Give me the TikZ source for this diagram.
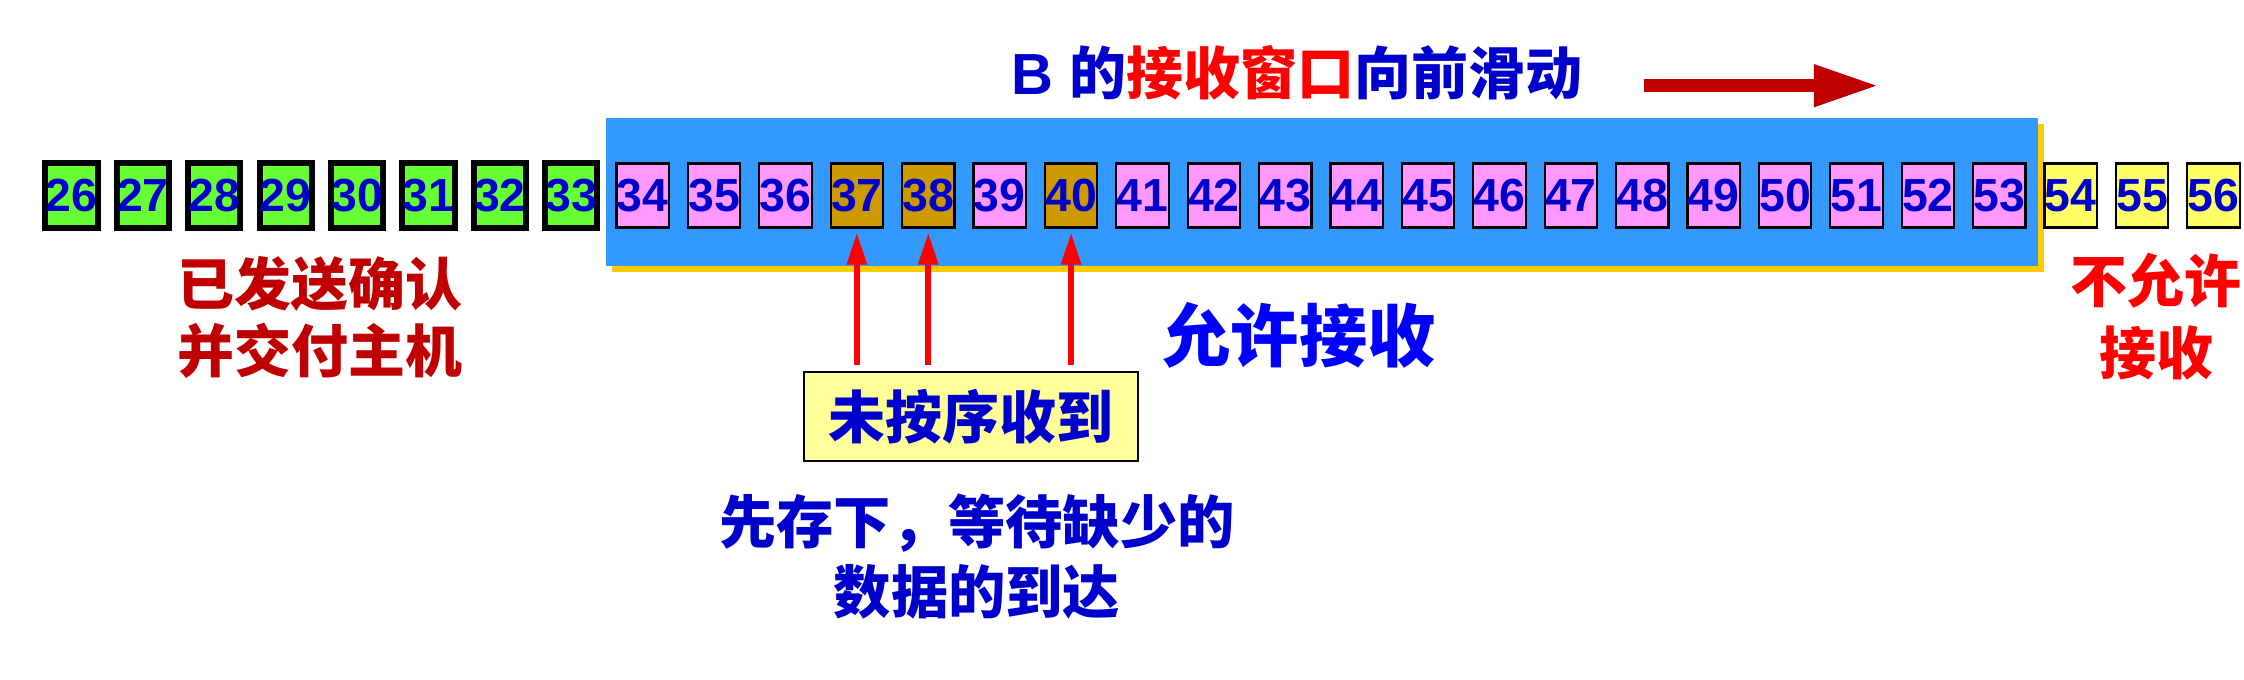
\documentclass[tikz,border=0pt]{standalone}
\usepackage{fontspec}
\setmainfont{Liberation Sans}
\newfontfamily\cjk{Noto Sans CJK SC}
\usetikzlibrary{arrows.meta}
\definecolor{numblue}{HTML}{0000CC}
\definecolor{purblue}{HTML}{0000FF}
\definecolor{winblue}{HTML}{3399FF}
\definecolor{winshadow}{HTML}{FFCC00}
\definecolor{donegreen}{HTML}{66FF33}
\definecolor{seqpink}{HTML}{FF99FF}
\definecolor{gotgold}{HTML}{CC9900}
\definecolor{lateyellow}{HTML}{FFFF66}
\definecolor{notefill}{HTML}{FFFF99}
\definecolor{darkred}{HTML}{C00000}
\tikzset{
    seqbox/.style={draw=black, line width=0.6pt, inner sep=0pt,
        minimum width=0.524cm, minimum height=0.64cm,
        text=numblue, font=\fontsize{13.2pt}{15pt}\selectfont\bfseries},
    donebox/.style={seqbox, fill=donegreen, line width=1.7pt,
        minimum width=0.52cm, minimum height=0.65cm},
    winbox/.style={seqbox, fill=seqpink},
    latebox/.style={seqbox, fill=lateyellow},
    cjktext/.style={inner sep=0pt, align=center,
        font=\cjk\bfseries\fontsize{16.2pt}{19pt}\selectfont},
    notebox/.style={cjktext, draw=black, line width=0.7pt, fill=notefill,
        text=numblue, minimum width=3.34cm, minimum height=0.89cm},
    hitarrow/.style={red, line width=1.7pt,
        -{Triangle[length=0.32cm,width=0.19cm]}},
    slidearrow/.style={darkred, line width=3.7pt,
        -{Triangle[length=0.65cm,width=0.39cm]}}
}
\begin{document}
\begin{tikzpicture}[x=0.01cm,y=-0.01cm]
    \useasboundingbox (0,0) rectangle (2244,680);
    \fill[winshadow] (612,124) rectangle (2044,272);
    \fill[winblue] (606,118) rectangle (2038,266);
    \foreach \n in {26,...,33}
        \node[donebox] (n\n) at ({71.5+(\n-26)*71.4},195.5) {\n};
    \foreach \n in {34,...,53}{
        \def\boxfill{seqpink}
        \ifnum\n=37 \def\boxfill{gotgold}\fi
        \ifnum\n=38 \def\boxfill{gotgold}\fi
        \ifnum\n=40 \def\boxfill{gotgold}\fi
        \node[winbox, fill=\boxfill] (n\n) at ({71.5+(\n-26)*71.4},195.5) {\n};
    }
    \foreach \n in {54,55,56}
        \node[latebox] (n\n) at ({71.5+(\n-26)*71.4},195.5) {\n};
    \node[anchor=west, inner sep=0pt] (title) at (1011,73)
        {\textcolor{numblue}{\fontsize{16.5pt}{19pt}\selectfont\bfseries B }%
         {\cjk\bfseries\fontsize{16.2pt}{19pt}\selectfont
          \textcolor{numblue}{的}\textcolor{red}{接收窗口}\textcolor{numblue}{向前滑动}}};
    \coordinate (slidefrom) at (1644,85.7);
    \coordinate (slideto) at (1879,85.7);
    \draw[slidearrow] (slidefrom) -- (slideto);
    \node[cjktext, text=darkred] (acked) at (320,317) {已发送确认\\并交付主机};
    \node[cjktext, text=red, font=\cjk\bfseries\fontsize{16.2pt}{20.4pt}\selectfont]
        (refused) at (2156,317) {不允许\\接收};
    \node[cjktext, text=purblue, font=\cjk\bfseries\fontsize{19.4pt}{22pt}\selectfont]
        (allowed) at (1299,335) {允许接收};
    \node[notebox] (oos) at (971,416.5) {未按序收到};
    \node[cjktext, text=numblue, font=\cjk\bfseries\fontsize{16.3pt}{19.9pt}\selectfont]
        (keep) at (977,557) {先存下，等待缺少的\\数据的到达};
    \foreach \n in {37,38,40}
        \draw[hitarrow, shorten <=0.6mm, shorten >=0.4mm] (n\n |- oos.north) -- (n\n.south);
\end{tikzpicture}
\end{document}
